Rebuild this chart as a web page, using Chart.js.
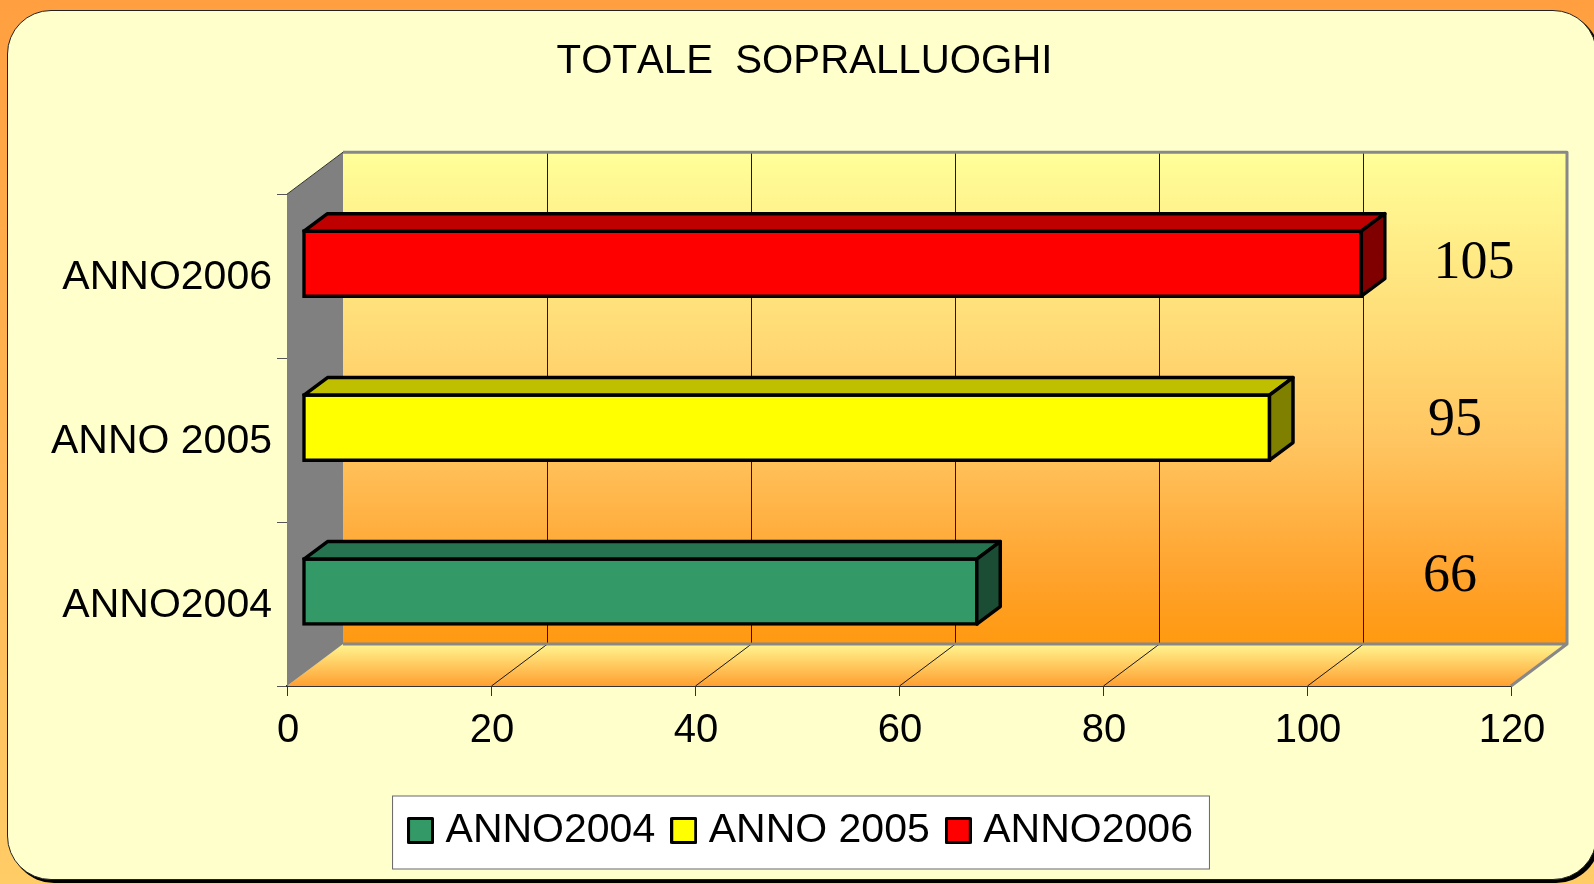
<!DOCTYPE html>
<html>
<head>
<meta charset="utf-8">
<script src="https://cdn.jsdelivr.net/npm/chart.js@4"></script>
<style>
html,body{margin:0;padding:0;width:1594px;height:884px;overflow:hidden;background:linear-gradient(#FF9F40,#FFCC66);}
#panel{position:absolute;left:7px;top:10px;width:1590px;height:870px;box-sizing:border-box;background:#FFFFCC;border:1px solid #222;border-radius:44px;box-shadow:3px 3px 0 #000;}
canvas{position:absolute;left:0;top:0;}
</style>
</head>
<body>
<div id="panel"></div>
<canvas id="c" width="1594" height="884"></canvas>
<script>
const categories = ['ANNO2004', 'ANNO 2005', 'ANNO2006'];
const barValues = [66.3, 95, 104];
const printedValues = ['66', '95', '105'];
const xTicks = [0, 20, 40, 60, 80, 100, 120];
const seriesColors = ['#339966', '#FFFF00', '#FF0000'];
const topColors = ['#267350', '#BFBF00', '#BF0000'];
const sideColors = ['#1A4D33', '#808000', '#800000'];

const WALL_DX = 56, WALL_DY = 42;      // depth of the 3D box
const BAR_SHIFT_X = 15, BAR_SHIFT_Y = -12.5; // front face of bars within the box
const BAR_DX = 23.5, BAR_DY = 17.5;    // depth of each bar
const labelSpots = [{x: 1450, y: 576.5}, {x: 1455, y: 420.5}, {x: 1474, y: 264}];

function swatch(color) {
  const s = document.createElement('canvas');
  s.width = 27; s.height = 27;
  const g = s.getContext('2d');
  g.fillStyle = color;
  g.strokeStyle = '#000';
  g.lineWidth = 3;
  g.lineJoin = 'round';
  g.fillRect(1.5, 1.5, 24, 24);
  g.strokeRect(1.5, 1.5, 24, 24);
  return s;
}

function poly(ctx, pts, fill, stroke, lw) {
  ctx.beginPath();
  pts.forEach((p, i) => i ? ctx.lineTo(p[0], p[1]) : ctx.moveTo(p[0], p[1]));
  ctx.closePath();
  if (fill) { ctx.fillStyle = fill; ctx.fill(); }
  if (stroke) { ctx.strokeStyle = stroke; ctx.lineWidth = lw; ctx.stroke(); }
}

const box3d = {
  id: 'box3d',
  beforeLayout(chart) { chart.ctx.fontKerning = 'none'; },
  afterLayout(chart) { chart.scales.y.left = 0; },
  beforeDraw(chart) {
    const ctx = chart.ctx, h = chart.legend.legendHitBoxes;
    ctx.fontKerning = 'none';
    // legend frame
    const cy = h[0].top + h[0].height / 2;
    const lx0 = h[0].left - 24, lx1 = h[2].left + h[2].width + 17;
    ctx.save();
    ctx.fillStyle = '#fff';
    ctx.fillRect(lx0, cy - 35, lx1 - lx0, 74);
    ctx.strokeStyle = '#666';
    ctx.lineWidth = 1;
    ctx.strokeRect(lx0 + .5, cy - 34.5, lx1 - lx0 - 1, 73);
    ctx.restore();
  },
  beforeDatasetsDraw(chart) {
    const ctx = chart.ctx, a = chart.chartArea, xs = chart.scales.x;
    const L = a.left, R = a.right, T = a.top, B = a.bottom;
    const bT = T - WALL_DY, bB = B - WALL_DY, bL = L + WALL_DX, bR = R + WALL_DX;
    ctx.save();
    // back wall
    let g = ctx.createLinearGradient(0, bT, 0, bB);
    g.addColorStop(0, '#FFFF99');
    g.addColorStop(0.6, '#FFC45F');
    g.addColorStop(0.85, '#FFA42F');
    g.addColorStop(1, '#FF9910');
    ctx.fillStyle = g;
    ctx.fillRect(bL, bT, bR - bL, bB - bT);
    // floor
    g = ctx.createLinearGradient(0, bB, 0, B);
    g.addColorStop(0, '#FFF690');
    g.addColorStop(1, '#FF9F30');
    poly(ctx, [[L, B], [R, B], [bR, bB], [bL, bB]], g);
    // left wall
    poly(ctx, [[L, T], [bL, bT], [bL, bB], [L, B]], '#808080');
    // grid lines on wall and floor
    ctx.strokeStyle = '#1a1a1a';
    ctx.lineWidth = 1;
    xTicks.slice(1, -1).forEach(v => {
      const x = Math.round(xs.getPixelForValue(v)) + .5;
      ctx.beginPath();
      ctx.moveTo(x + WALL_DX, bT);
      ctx.lineTo(x + WALL_DX, bB);
      ctx.moveTo(x + WALL_DX, bB);
      ctx.lineTo(x, B);
      ctx.stroke();
    });
    // wall frame
    ctx.strokeStyle = '#888888';
    ctx.lineWidth = 3;
    ctx.lineJoin = 'round';
    ctx.beginPath();
    ctx.moveTo(bL, bT); ctx.lineTo(bR, bT); ctx.lineTo(bR, bB); ctx.lineTo(bL, bB);
    ctx.moveTo(bR, bB); ctx.lineTo(R, B);
    ctx.stroke();
    ctx.strokeStyle = '#333';
    ctx.lineWidth = 1;
    ctx.beginPath();
    ctx.moveTo(L, T); ctx.lineTo(bL, bT);
    ctx.stroke();
    ctx.restore();
  },
  beforeDatasetDraw(chart) {
    chart.ctx.save();
    chart.ctx.translate(BAR_SHIFT_X, BAR_SHIFT_Y);
  },
  afterDatasetDraw(chart, args) {
    const ctx = chart.ctx, i = args.index;
    const bar = args.meta.data[i];
    const p = bar.getProps(['x', 'y', 'base', 'height'], true);
    const top = p.y - p.height / 2 + 1.5, bot = p.y + p.height / 2 - 1.5;
    const left = p.base + 1.5, right = p.x - 1.5;
    ctx.lineJoin = 'round';
    poly(ctx, [[left, top], [left + BAR_DX, top - BAR_DY], [right + BAR_DX, top - BAR_DY], [right, top]], topColors[i], '#000', 3.5);
    poly(ctx, [[right, top], [right + BAR_DX, top - BAR_DY], [right + BAR_DX, bot - BAR_DY], [right, bot]], sideColors[i], '#000', 3.5);
    ctx.restore();
  },
  afterDraw(chart) {
    const ctx = chart.ctx;
    ctx.save();
    ctx.font = '54px "Liberation Serif"';
    ctx.fillStyle = '#000';
    ctx.textAlign = 'center';
    ctx.textBaseline = 'middle';
    printedValues.forEach((t, i) => ctx.fillText(t, labelSpots[i].x, labelSpots[i].y));
    ctx.restore();
  }
};

const FONT = {family: '"Liberation Sans"', size: 40};
const FONT_LARGE = {family: '"Liberation Sans"', size: 41};

new Chart(document.getElementById('c'), {
  type: 'bar',
  data: {
    labels: categories,
    datasets: categories.map((name, i) => ({
      label: name,
      data: categories.map((_, j) => j === i ? barValues[i] : null),
      backgroundColor: seriesColors[i],
      borderColor: '#000',
      borderWidth: 3.5,
      borderSkipped: false,
      barThickness: 68,
      grouped: false,
      clip: false
    }))
  },
  options: {
    indexAxis: 'y',
    responsive: false,
    animation: false,
    events: [],
    layout: {padding: {left: 98, right: 83, top: 0, bottom: 23}},
    scales: {
      x: {
        min: 0, max: 120,
        ticks: {stepSize: 20, color: '#000', font: FONT, padding: 11, labelOffset: 1, maxRotation: 0},
        grid: {drawOnChartArea: false, drawTicks: true, tickLength: 10, color: '#333', lineWidth: 1},
        border: {color: '#333', width: 2},
        afterFit(s) { s.height = 100; }
      },
      y: {
        reverse: true,
        ticks: {color: '#000', font: FONT_LARGE, padding: 5, labelOffset: 2},
        grid: {drawOnChartArea: false, drawTicks: true, tickLength: 10, offset: true, color: '#555', lineWidth: 1},
        border: {color: '#333', width: 1},
        afterFit(s) { s.width = 189; }
      }
    },
    plugins: {
      title: {
        display: true,
        text: 'TOTALE  SOPRALLUOGHI',
        color: '#000',
        font: {family: '"Liberation Sans"', size: 40.2, weight: 'normal', lineHeight: 1},
        padding: {top: 42, bottom: 112}
      },
      tooltip: {enabled: false},
      legend: {
        position: 'bottom',
        labels: {
          color: '#000',
          font: FONT_LARGE,
          usePointStyle: true,
          pointStyleWidth: 9,
          boxHeight: 27,
          padding: 24,
          generateLabels(chart) {
            return Chart.defaults.plugins.legend.labels.generateLabels(chart).map((item, i) => {
              item.pointStyle = swatch(seriesColors[i]);
              return item;
            });
          }
        }
      }
    }
  },
  plugins: [box3d]
});
</script>
</body>
</html>
